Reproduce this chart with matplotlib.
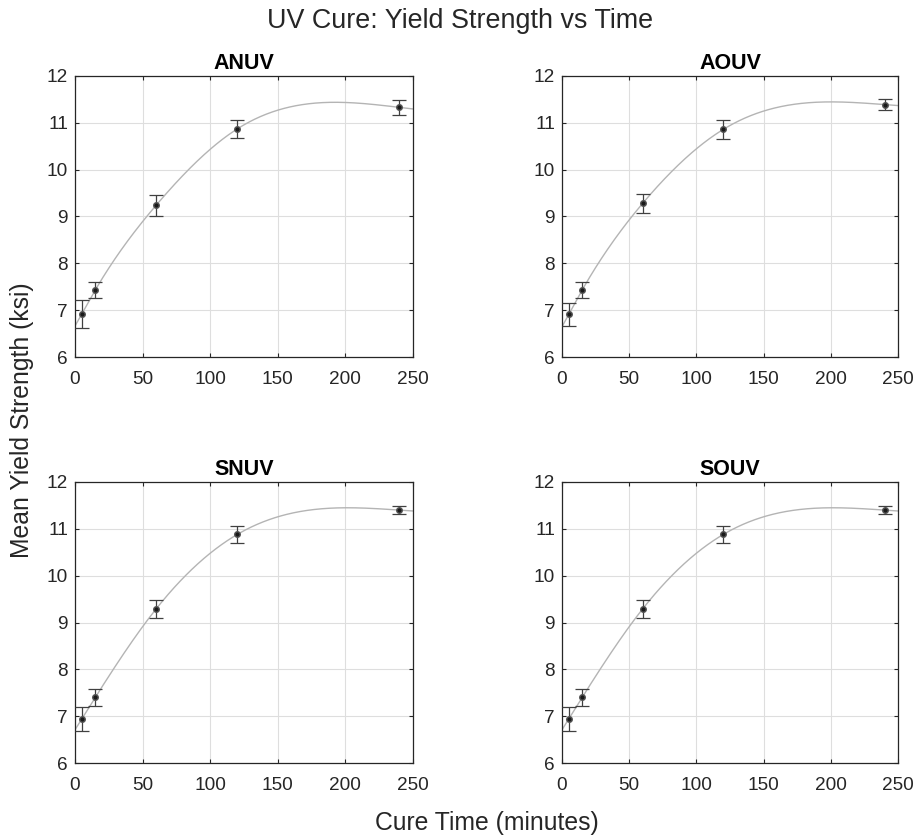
import numpy as np
import matplotlib
matplotlib.use("Agg")
import matplotlib.pyplot as plt

plt.rcParams['font.family'] = ['Liberation Sans', 'DejaVu Sans']

cure_time = [5, 15, 60, 120, 240]
groups = ["ANUV", "AOUV", "SNUV", "SOUV"]
mean_ys = {
    "ANUV": [6.92, 7.43, 9.24, 10.87, 11.33],
    "AOUV": [6.91, 7.43, 9.28, 10.86, 11.39],
    "SNUV": [6.94, 7.40, 9.29, 10.88, 11.40],
    "SOUV": [6.94, 7.40, 9.29, 10.88, 11.40],
}
err_ys = {
    "ANUV": [0.30, 0.18, 0.22, 0.20, 0.155],
    "AOUV": [0.245, 0.18, 0.195, 0.195, 0.11],
    "SNUV": [0.26, 0.18, 0.195, 0.18, 0.09],
    "SOUV": [0.26, 0.18, 0.195, 0.18, 0.09],
}
xticks = [0, 50, 100, 150, 200, 250]
yticks = [6, 7, 8, 9, 10, 11, 12]


def natural_spline(x, y):
    """Natural cubic spline through the data (smoothing-spline fit curve)."""
    x = np.asarray(x, float); y = np.asarray(y, float)
    n = len(x); m = n - 1
    A = np.zeros((4 * m, 4 * m)); b = np.zeros(4 * m); r = 0

    def row(i, t, d):
        v = np.zeros(4 * m); dx = t - x[i]
        for k in range(4):
            if d == 0:
                v[4 * i + k] = dx ** k
            elif d == 1 and k >= 1:
                v[4 * i + k] = k * dx ** (k - 1)
            elif d == 2 and k >= 2:
                v[4 * i + k] = k * (k - 1) * dx ** (k - 2)
        return v

    for i in range(m):
        A[r] = row(i, x[i], 0); b[r] = y[i]; r += 1
        A[r] = row(i, x[i + 1], 0); b[r] = y[i + 1]; r += 1
    for i in range(1, m):
        for d in (1, 2):
            A[r] = row(i - 1, x[i], d) - row(i, x[i], d); r += 1
    A[r] = row(0, x[0], 2); r += 1
    A[r] = row(m - 1, x[m], 2); r += 1
    c = np.linalg.solve(A, b)

    def f(t):
        t = np.asarray(t, float)
        i = np.clip(np.searchsorted(x, t) - 1, 0, m - 1)
        dx = t - x[i]
        return sum(c[4 * i + k] * dx ** k for k in range(4))
    return f


W, H = 920, 839
fig = plt.figure(figsize=(W / 100, H / 100), dpi=100)

positions = [
    (75, 76, 413, 357),
    (562, 76, 898, 357),
    (75, 482, 413, 763),
    (562, 482, 898, 763),
]
txt = '#262626'
for g, (x0, y0, x1, y1) in zip(groups, positions):
    ax = fig.add_axes([x0 / W, 1 - y1 / H, (x1 - x0) / W, (y1 - y0) / H])
    x = np.array(cure_time, dtype=float)
    y = np.array(mean_ys[g])
    f = natural_spline(x, y)
    xf = np.linspace(0, 250, 400)
    ax.plot(xf, f(xf), color='#b4b4b4', lw=1.0, zorder=2)
    ax.errorbar(x, y, yerr=err_ys[g], fmt='o', color='#1a1a1a', ecolor='#404040',
                ms=4, mec='#555555', elinewidth=0.9, capsize=5, capthick=0.9, zorder=3)
    ax.set_xlim(0, 250)
    ax.set_ylim(6, 12)
    ax.set_xticks(xticks)
    ax.set_yticks(yticks)
    ax.grid(True, color='#dedede', lw=0.8)
    ax.set_axisbelow(True)
    ax.tick_params(direction='in', length=3, width=0.8, colors=txt, labelsize=13.7,
                   top=True, right=True)
    ax.tick_params(axis='x', pad=10)
    ax.tick_params(axis='y', pad=5)
    for s in ax.spines.values():
        s.set_color(txt)
        s.set_linewidth(0.9)
    ax.set_title(g, fontsize=15.5, fontweight='bold', color='black', pad=5)

fig.text(0.5, 1 - 21 / H, "UV Cure: Yield Strength vs Time", ha='center', va='center',
         fontsize=19.4, color=txt)
fig.text(487 / W, 1 - 823 / H, "Cure Time (minutes)", ha='center', va='center',
         fontsize=17.8, color=txt)
fig.text(22 / W, 1 - 420 / H, "Mean Yield Strength (ksi)", ha='center', va='center',
         rotation=90, fontsize=17.8, color=txt)

fig.savefig("out.png", dpi=100)
